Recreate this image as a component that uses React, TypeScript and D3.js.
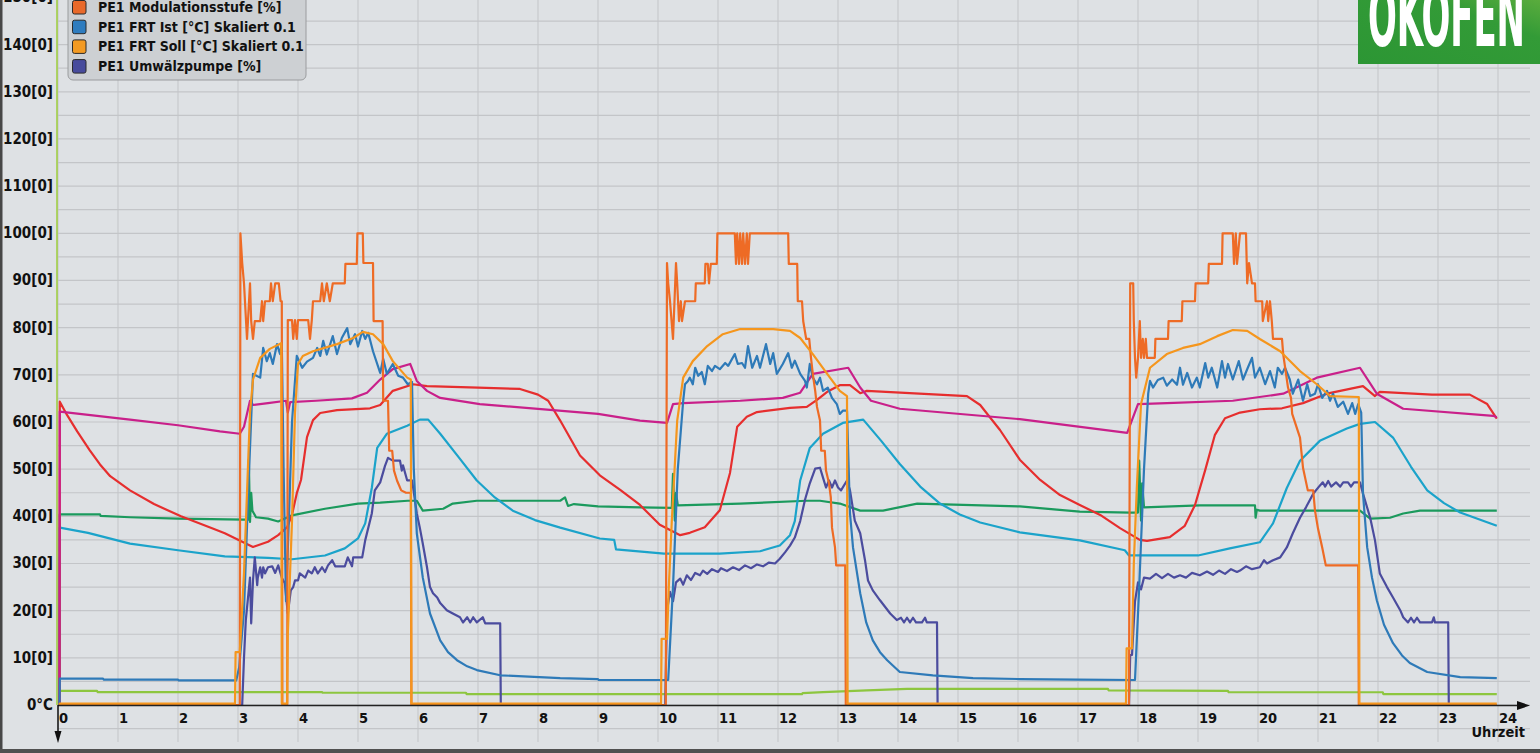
import React from "react";
import * as d3 from "d3";

type P = [number, number];

const xTicks = d3.range(0, 25);
const yLabelValues = d3.range(0, 151, 10);
const yGridValues = d3.range(-5, 151, 5);

const legendItems = [
  { label: "PE1 Modulationsstufe [%]", color: "#e8692a" },
  { label: "PE1 FRT Ist [°C] Skaliert 0.1", color: "#2e7cbf" },
  { label: "PE1 FRT Soll [°C] Skaliert 0.1", color: "#f39a22" },
  { label: "PE1 Umwälzpumpe [%]", color: "#474b9c" },
];

const lightGreen: P[] = [[0.025,0],[0.03,3.0],[0.65,3.0],[0.66,2.75],[4.4,2.75],[4.41,2.6],[6.8,2.6],[6.81,2.3],[12.4,2.3],[12.41,2.5],[12.75,2.75],[13.48,3.1],[14.15,3.4],[17.5,3.4],[17.51,3.1],[19.5,3.0],[19.51,2.7],[22.08,2.7],[22.09,2.3],[23.98,2.3]];

const green: P[] = [[0.025,0],[0.03,40.4],[0.7,40.4],[0.71,40.1],[1.2,39.8],[2.0,39.5],[3.1,39.3],[3.17,39.3],[3.18,52],[3.2,38.8],[3.22,45],[3.24,41.2],[3.3,39.8],[3.5,39.5],[3.67,38.9],[3.9,40.2],[4.45,41.6],[5.0,42.7],[5.37,42.9],[5.83,43.3],[5.98,43.3],[6.08,41.2],[6.42,41.6],[6.58,42.7],[6.98,43.3],[8.37,43.3],[8.45,44],[8.5,42.2],[8.6,42.6],[9.0,42.1],[9.7,41.9],[10.23,41.8],[10.25,49],[10.28,39.1],[10.3,45],[10.33,42.3],[11.37,42.7],[12.48,43.3],[12.7,43.3],[13.03,42.7],[13.37,41.2],[13.75,41.2],[14.32,42.7],[16.03,42.1],[17.03,41],[17.87,40.8],[18.0,40.8],[18.02,51.8],[18.05,39.1],[18.07,47],[18.1,41.9],[19.03,42.3],[19.95,42.3],[19.96,39.7],[19.98,41.4],[20.03,41.2],[21.7,41.2],[21.87,39.5],[22.2,39.7],[22.42,40.6],[22.7,41.2],[23.98,41.2]];

const cyan: P[] = [[0.025,0],[0.03,37.6],[0.5,36.5],[1.2,34.2],[2.0,32.8],[2.78,31.5],[3.5,31.2],[3.9,30.9],[4.45,31.7],[4.78,33.2],[5.0,35.3],[5.12,38.5],[5.23,46],[5.32,54.5],[5.48,57.5],[5.82,59.2],[6.03,60.5],[6.17,60.5],[6.37,57.5],[6.68,52.5],[6.98,47.6],[7.28,44],[7.58,41.2],[7.95,39.2],[8.37,37.6],[9.03,35.3],[9.27,35],[9.3,33],[10.1,32.1],[11.03,32.1],[11.7,32.6],[12.03,33.8],[12.2,36],[12.28,39],[12.37,47.6],[12.53,54.5],[12.75,57.5],[13.08,59.8],[13.42,60.5],[13.72,56],[14.03,51.1],[14.37,46.3],[14.7,42.7],[15.03,40.4],[15.37,38.7],[16.03,36.6],[17.03,34.9],[17.78,32.8],[17.85,31.7],[19.0,31.7],[19.53,33.2],[20.03,34.5],[20.25,38.5],[20.48,46],[20.7,51.8],[21.03,56],[21.48,58.6],[21.7,59.6],[21.95,60],[22.25,56.7],[22.55,50.5],[22.82,45.5],[23.1,42.8],[23.37,40.8],[23.98,38]];

const red: P[] = [[0.025,0],[0.03,64.3],[0.15,61.5],[0.32,58],[0.53,54],[0.7,51],[0.87,48.5],[1.2,45.5],[1.6,42.6],[2.05,40],[2.6,37.3],[2.78,36.4],[3.07,34.6],[3.25,33.5],[3.5,34.6],[3.67,36],[3.82,37.7],[3.9,40.3],[3.98,44.9],[4.05,47.7],[4.15,56.8],[4.25,60.4],[4.37,61.9],[4.65,62.5],[5.2,62.9],[5.37,63.6],[5.58,66.6],[5.92,68],[6.15,67.6],[7.0,67.3],[7.7,67],[8.0,65.8],[8.17,64.5],[8.37,60.3],[8.7,52.9],[9.03,48.7],[9.37,45.6],[9.7,42.4],[10.03,38.2],[10.37,36],[10.53,36.5],[10.78,37.7],[11.03,41.3],[11.2,49.2],[11.32,59],[11.48,61.1],[11.65,62.1],[12.2,63],[12.48,63.2],[12.65,64.7],[12.82,66.4],[13.03,67.8],[13.2,67.8],[13.37,66.1],[13.48,66.6],[15.15,65.5],[15.37,63.6],[15.7,58.3],[16.03,52],[16.37,47.7],[16.7,44.5],[17.03,42.4],[17.37,40.3],[17.7,37.5],[18.03,35],[18.15,34.8],[18.53,35.6],[18.78,38],[18.95,42.4],[19.12,49.8],[19.28,57.2],[19.45,60.8],[19.7,62],[20.03,62.7],[20.4,62.9],[20.75,64],[21.15,66],[21.75,67.6],[21.95,65.5],[22.03,66.4],[22.9,65.8],[23.53,65.8],[23.82,63.8],[23.98,60.7]];

const magenta: P[] = [[0.025,0],[0.03,62.2],[1.2,60.5],[2.0,59.3],[2.7,58],[3.03,57.5],[3.1,59],[3.2,64.5],[3.25,63.6],[3.5,64],[3.8,64.5],[3.83,62],[3.87,64.2],[4.3,64.5],[4.9,65],[5.15,66.2],[5.37,69],[5.58,71.2],[5.87,72.3],[5.98,68.7],[6.15,66.6],[6.37,65.1],[7.03,63.8],[9.0,61.7],[9.7,60.3],[10.15,59.8],[10.25,63.8],[10.42,64],[11.37,64.5],[12.08,65.1],[12.37,66.2],[12.58,70.2],[13.17,71.5],[13.37,67.3],[13.55,64.5],[14.03,62.8],[16.03,60.6],[17.82,57.7],[18.0,63.8],[18.48,64],[19.58,64.5],[20.42,66],[20.98,69.4],[21.7,71.5],[21.98,66],[22.42,62.8],[23.92,61.3],[23.98,61]];

const pump: P[] = [[0.025,0],[3.07,0],[3.1,10],[3.13,18],[3.2,27],[3.22,17.3],[3.25,26.4],[3.28,31.3],[3.32,25.4],[3.33,27],[3.37,29.2],[3.4,27],[3.42,29.2],[3.45,27.9],[3.5,29.2],[3.57,29.4],[3.62,28],[3.67,29.6],[3.73,27],[3.78,25.8],[3.83,19.4],[3.88,24.3],[3.92,25],[3.95,26.4],[4.0,26.4],[4.03,27.9],[4.12,27],[4.17,28.5],[4.23,27.9],[4.28,29.2],[4.33,27.9],[4.4,29.2],[4.45,28.2],[4.5,29.6],[4.57,30.7],[4.62,29.4],[4.78,29.4],[4.83,31.3],[4.9,29.4],[4.92,31.3],[5.07,31.3],[5.12,34.9],[5.23,40.6],[5.28,45.5],[5.37,47.2],[5.45,50.7],[5.5,52.4],[5.58,51.8],[5.7,51.8],[5.73,49.7],[5.75,50.8],[5.82,47.6],[5.9,47.6],[5.92,46],[5.98,40.6],[6.03,37.6],[6.08,34.2],[6.15,29.2],[6.2,25],[6.25,23.7],[6.32,22.8],[6.37,21.6],[6.48,20.1],[6.58,19.4],[6.7,18.6],[6.75,17.5],[6.82,18.6],[6.87,17.5],[6.92,18.6],[6.98,17.5],[7.08,18.6],[7.12,17.3],[7.37,17.3],[7.38,0],[10.12,0],[10.15,20],[10.2,24],[10.25,22],[10.3,26],[10.37,26.8],[10.42,25.5],[10.48,27.5],[10.55,26.5],[10.62,28],[10.7,27.5],[10.75,28.5],[10.82,27.8],[10.9,28.8],[11.0,28.2],[11.05,29],[11.15,28.4],[11.25,29.2],[11.35,28.6],[11.45,29.6],[11.55,29],[11.65,29.8],[11.75,29.4],[11.85,30.2],[11.95,30],[12.03,31],[12.12,32.4],[12.2,33.8],[12.28,35.5],[12.37,39],[12.45,43.5],[12.53,47],[12.62,50.1],[12.7,50.3],[12.75,48.2],[12.8,46.1],[12.85,47.6],[12.9,46.1],[12.95,47.6],[13.0,46.1],[13.05,45.5],[13.15,47.6],[13.2,45.5],[13.28,39.1],[13.37,36.4],[13.45,30.7],[13.5,26.4],[13.58,24.3],[13.7,22.2],[13.87,19.4],[13.98,18],[14.05,18.5],[14.1,17.5],[14.15,18.5],[14.2,17.5],[14.25,18.5],[14.3,17.5],[14.4,17.5],[14.45,18.5],[14.48,17.5],[14.65,17.5],[14.66,0],[17.85,0],[17.87,10.6],[17.9,10.6],[17.95,22],[18.0,26],[18.05,24.5],[18.1,27],[18.2,26.8],[18.3,27.8],[18.4,26.9],[18.5,27.8],[18.6,27],[18.7,27.5],[18.8,27],[18.9,28],[19.03,27.5],[19.15,28.3],[19.25,27.6],[19.35,28.5],[19.45,27.8],[19.55,28.8],[19.65,28.2],[19.7,28.5],[19.8,29.4],[19.9,28.8],[20.03,29.2],[20.1,30.7],[20.15,30],[20.25,30.7],[20.37,31.3],[20.48,33.4],[20.58,36.4],[20.7,39.7],[20.8,41.9],[20.92,44.8],[21.03,46.5],[21.08,47.2],[21.12,46.3],[21.17,47.5],[21.22,46.3],[21.3,47.2],[21.37,46.3],[21.42,47.2],[21.5,47.2],[21.55,46.3],[21.6,47.2],[21.7,47.2],[21.75,44.8],[21.87,39.7],[21.95,34.9],[22.03,27.9],[22.15,25],[22.25,22.8],[22.37,20.1],[22.42,18.6],[22.5,17.5],[22.55,18.5],[22.6,17.5],[22.65,18.5],[22.7,17.5],[22.9,17.5],[22.93,18.6],[22.95,17.5],[23.17,17.5],[23.18,0],[23.98,0]];

const frtIst: P[] = [[0.025,0],[0.03,5.6],[0.75,5.6],[0.76,5.4],[2.0,5.4],[2.01,5.2],[2.97,5.2],[3.02,8],[3.1,20],[3.17,45],[3.25,70.2],[3.37,69.4],[3.42,75.7],[3.48,72.9],[3.53,74.6],[3.58,72.3],[3.65,76.5],[3.7,74.4],[3.73,76.7],[3.76,50],[3.8,22],[3.85,40],[3.9,60],[3.98,74],[4.07,71.5],[4.15,72.8],[4.25,73.6],[4.32,75.7],[4.37,74],[4.42,77.2],[4.48,74.3],[4.58,78.2],[4.65,74.4],[4.73,77.8],[4.82,79.9],[4.87,76.5],[4.95,78.6],[5.0,76],[5.07,79.3],[5.12,77.6],[5.17,78.9],[5.25,75],[5.37,70.4],[5.42,73.4],[5.48,70.2],[5.58,72.3],[5.67,69.8],[5.75,69.4],[5.83,68],[5.9,68.5],[5.93,50],[5.98,36.4],[6.08,27],[6.2,19.4],[6.37,13.7],[6.5,11.2],[6.65,9.5],[6.82,8.2],[6.98,7.4],[7.37,6.3],[8.37,5.7],[9.0,5.5],[9.01,5.3],[10.17,5.3],[10.25,25],[10.33,50],[10.42,64.5],[10.45,68],[10.5,68.7],[10.53,69.4],[10.58,68],[10.62,71.5],[10.67,69.8],[10.73,70.6],[10.78,68],[10.83,71.9],[10.9,70.8],[10.95,71.9],[11.03,71.2],[11.12,72.5],[11.17,71.9],[11.28,74.4],[11.33,72.3],[11.4,72.5],[11.45,71.5],[11.5,76.1],[11.57,71.5],[11.65,74],[11.7,71.5],[11.8,76.5],[11.87,72.3],[11.92,74.6],[11.98,70.2],[12.08,72.3],[12.17,74.6],[12.23,71.5],[12.28,73],[12.37,70.2],[12.45,68.7],[12.48,67.3],[12.53,72.3],[12.58,69.4],[12.65,68],[12.7,69.4],[12.75,66.6],[12.83,67.3],[12.9,65.1],[12.98,63.8],[13.03,61.7],[13.08,62.4],[13.15,62.4],[13.2,40.6],[13.25,33.4],[13.37,23.7],[13.47,17.5],[13.58,13.7],[13.7,11.2],[13.82,9.5],[14.03,7.0],[14.58,6.3],[15.25,5.7],[16.03,5.5],[17.0,5.4],[17.95,5.3],[18.02,25],[18.1,50],[18.17,66],[18.2,68.7],[18.25,67.3],[18.33,68.9],[18.42,69.4],[18.48,67.7],[18.57,69],[18.65,67.9],[18.7,71.5],[18.75,67.9],[18.82,70.4],[18.9,67.3],[18.98,69.4],[19.03,67.3],[19.12,72.5],[19.17,69.4],[19.23,71.5],[19.32,67.3],[19.4,72.9],[19.45,69.4],[19.5,72.3],[19.58,69],[19.68,72.9],[19.75,69],[19.83,71.5],[19.9,73.6],[19.95,69.4],[20.03,71.5],[20.12,68],[20.2,70.8],[20.28,67.3],[20.33,71.5],[20.4,70.2],[20.45,71.5],[20.53,69],[20.58,66],[20.67,69],[20.75,64.5],[20.82,68],[20.87,65.5],[20.95,66],[21.0,68],[21.07,65.1],[21.15,66.6],[21.2,64.5],[21.25,66],[21.33,63.2],[21.42,64.3],[21.5,61.7],[21.57,64],[21.62,61.7],[21.67,63.8],[21.72,62],[21.75,44.8],[21.82,33.4],[21.9,27],[21.98,22.2],[22.1,17],[22.25,13.1],[22.4,10.5],[22.53,8.9],[22.82,7.0],[23.37,5.9],[23.98,5.7]];

const modulation: P[] = [[0.025,0],[3.03,0],[3.04,100],[3.07,93.7],[3.1,89.4],[3.15,77.6],[3.2,89.4],[3.22,81.4],[3.25,77.6],[3.28,81.4],[3.37,81.4],[3.4,85.6],[3.42,81.4],[3.45,85.6],[3.53,85.6],[3.55,89.4],[3.58,85.6],[3.62,89.4],[3.68,89.4],[3.71,85.6],[3.73,85.6],[3.74,0],[3.82,0],[3.83,81.6],[3.9,81.6],[3.92,77.6],[3.95,81.6],[3.98,77.6],[4.0,81.6],[4.17,81.6],[4.2,77.6],[4.23,81.6],[4.25,85.6],[4.37,85.6],[4.4,89.4],[4.43,85.6],[4.48,89.4],[4.53,85.6],[4.58,89.4],[4.78,89.4],[4.79,93.5],[4.98,93.5],[4.99,100],[5.08,100],[5.09,93.7],[5.25,93.7],[5.26,81.4],[5.41,81.4],[5.42,64.5],[5.5,64.5],[5.52,53.9],[5.57,53.9],[5.6,49.7],[5.65,47.6],[5.72,45.5],[5.8,45],[5.88,45],[5.89,0],[10.13,0],[10.15,93.7],[10.17,89.4],[10.2,85.6],[10.25,77.6],[10.3,93.7],[10.32,89.4],[10.35,81.4],[10.38,85.6],[10.4,81.4],[10.45,85.6],[10.62,85.6],[10.63,89.4],[10.78,89.4],[10.79,93.5],[10.83,93.5],[10.85,89.4],[10.88,93.5],[10.98,93.5],[10.99,100],[11.28,100],[11.3,93.5],[11.32,100],[11.35,93.5],[11.37,100],[11.4,93.5],[11.42,100],[11.45,93.5],[11.48,100],[11.5,93.5],[11.53,100],[12.17,100],[12.18,93.5],[12.32,93.5],[12.33,85.6],[12.4,85.6],[12.42,81.4],[12.47,77.6],[12.52,77.6],[12.55,73.6],[12.58,70.2],[12.62,66.6],[12.65,63.2],[12.7,60.3],[12.72,53.9],[12.78,53.9],[12.8,49.7],[12.85,47],[12.88,44],[12.9,37.6],[12.95,33.4],[12.97,29.6],[13.12,29.6],[13.13,0],[17.85,0],[17.87,89.4],[17.92,89.4],[17.93,81.4],[17.95,73.6],[17.97,69.4],[18.0,73.6],[18.03,81.4],[18.05,73.6],[18.08,77.6],[18.1,73.6],[18.13,77.6],[18.15,73.6],[18.28,73.6],[18.29,77.6],[18.5,77.6],[18.51,81.4],[18.73,81.4],[18.74,85.6],[18.95,85.6],[18.96,89.4],[19.17,89.4],[19.18,93.5],[19.4,93.5],[19.41,100],[19.58,100],[19.6,93.5],[19.63,100],[19.65,93.5],[19.7,100],[19.8,100],[19.82,89.4],[19.85,93.7],[19.9,89.4],[19.95,89.4],[19.96,85.6],[20.07,85.6],[20.08,81.4],[20.15,85.6],[20.17,81.4],[20.2,85.6],[20.23,81.4],[20.25,77.6],[20.4,77.6],[20.42,74.4],[20.5,67.3],[20.55,65.1],[20.57,61.7],[20.7,56.7],[20.75,50.3],[20.83,45.5],[20.92,45.5],[20.95,41.2],[21.0,37.4],[21.07,33.4],[21.13,29.6],[21.67,29.6],[21.68,0],[23.98,0]];

const frtSoll: P[] = [[0.025,0],[0.03,0.3],[2.95,0.3],[2.96,11.2],[3.03,11.2],[3.1,28],[3.15,45],[3.2,62],[3.25,69],[3.37,73.6],[3.53,75.5],[3.72,76.7],[3.73,0.3],[3.82,0.3],[3.83,15],[3.9,39],[3.95,62],[4.0,72.3],[4.08,74],[4.25,75],[4.65,76.5],[4.92,77.8],[5.08,79.1],[5.25,78.6],[5.42,76.5],[5.58,72.9],[5.82,69.4],[5.88,69],[5.89,0.3],[10.05,0.3],[10.06,14],[10.15,14],[10.18,25],[10.23,39],[10.32,60.3],[10.42,69.4],[10.58,72.9],[10.82,76.1],[11.08,78.6],[11.37,79.7],[11.92,79.7],[12.2,79.3],[12.37,77.8],[12.58,74.4],[12.82,70.2],[13.03,66.6],[13.15,65.5],[13.16,0.3],[17.8,0.3],[17.81,12],[17.9,12],[17.93,30],[17.98,46],[18.05,63.8],[18.2,71.5],[18.48,74.4],[18.75,75.7],[19.03,76.5],[19.32,78.2],[19.58,79.5],[19.82,79.3],[20.03,77.6],[20.37,75],[20.7,70.8],[20.98,68],[21.2,65.5],[21.68,65.3],[21.69,0.3],[23.98,0.3]];

const series = [
  { data: lightGreen, color: "#8dc63f" },
  { data: green, color: "#1b9a5d" },
  { data: cyan, color: "#1ba3ca" },
  { data: red, color: "#e62e2e" },
  { data: magenta, color: "#c9208a" },
  { data: pump, color: "#4b4c9e" },
  { data: frtIst, color: "#2e7ab8" },
  { data: modulation, color: "#ee6b25" },
  { data: frtSoll, color: "#f5961d" },
];

const FONT = "'DejaVu Sans Condensed', 'Liberation Sans Narrow', sans-serif";

export default function App() {
  const W = 1540, H = 753;
  const x = d3.scaleLinear().domain([0, 24]).range([58, 1498]);
  const y = d3.scaleLinear().domain([0, 100]).range([705, 233.3]);
  const line = d3.line<P>().x(d => x(d[0])).y(d => y(d[1]));

  return (
    <svg width={W} height={H} style={{ position: "absolute", left: 0, top: 0, display: "block" }} fontFamily={FONT}>
      <defs>
        <linearGradient id="logoG" x1="0" y1="1" x2="1" y2="0">
          <stop offset="0" stopColor="#2c9634" />
          <stop offset="0.7" stopColor="#339b37" />
          <stop offset="1" stopColor="#5aac3d" />
        </linearGradient>
      </defs>
      <rect x={0} y={0} width={W} height={H} fill="#dee1e4" />
      {xTicks.map(t => (
        <line key={"vx" + t} x1={x(t)} x2={x(t)} y1={0} y2={742} stroke="#c3c5c8" strokeWidth={1} />
      ))}
      {yGridValues.map(v => (
        <line key={"hy" + v} x1={58} x2={1530} y1={y(v)} y2={y(v)} stroke="#c3c5c8" strokeWidth={1.2} />
      ))}
      {yLabelValues.map(v => (
        <text key={"yl" + v} x={53} y={y(v) + 5} textAnchor="end" fontSize={15} fontWeight="bold" fill="#111">
          {v === 0 ? "0°C" : `${v}[0]`}
        </text>
      ))}
      {xTicks.map(t => (
        <text key={"xl" + t} x={x(t) + 1} y={723} textAnchor="start" fontSize={14.5} fontWeight="bold" fill="#111">
          {t}
        </text>
      ))}
      <text x={1525} y={737} textAnchor="end" fontSize={14.5} fontWeight="bold" fill="#111">Uhrzeit</text>
      <line x1={57} x2={57} y1={0} y2={705} stroke="#9dcc3a" strokeWidth={1.5} />
      {series.map((s, i) => (
        <path key={"s" + i} d={line(s.data) || ""} fill="none" stroke={s.color} strokeWidth={2.2} strokeLinejoin="round" />
      ))}
      <line x1={58} x2={1520} y1={705.5} y2={705.5} stroke="#222" strokeWidth={1.5} />
      <path d="M1517,701 L1530,705.5 L1517,710 Z" fill="#111" />
      <line x1={58} x2={58} y1={705} y2={733} stroke="#111" strokeWidth={1.5} />
      <path d="M54.5,731 L58,743 L61.5,731 Z" fill="#111" />
      <rect x={0} y={0} width={2.5} height={H} fill="#474747" />
      <rect x={0} y={749} width={W} height={4} fill="#505050" />
      <rect x={68} y={-20} width={238} height={100} rx={5} fill="#cdd0d3" stroke="#9a9c9e" strokeWidth={1} />
      {legendItems.map((it, i) => (
        <g key={"lg" + i}>
          <rect x={72.5} y={0.5 + i * 19.7} width={13.5} height={13.5} rx={2} fill={it.color} stroke="#2a2a2a" strokeWidth={1} />
          <text x={98} y={12 + i * 19.7} fontSize={14} fontWeight="bold" fill="#111">{it.label}</text>
        </g>
      ))}
      <rect x={1358} y={0} width={182} height={64} fill="url(#logoG)" />
      <text x={1368} y={46} fontSize={84} fontWeight="bold" fill="#fff" textLength={157} lengthAdjust="spacingAndGlyphs">ÖKOFEN</text>
    </svg>
  );
}
